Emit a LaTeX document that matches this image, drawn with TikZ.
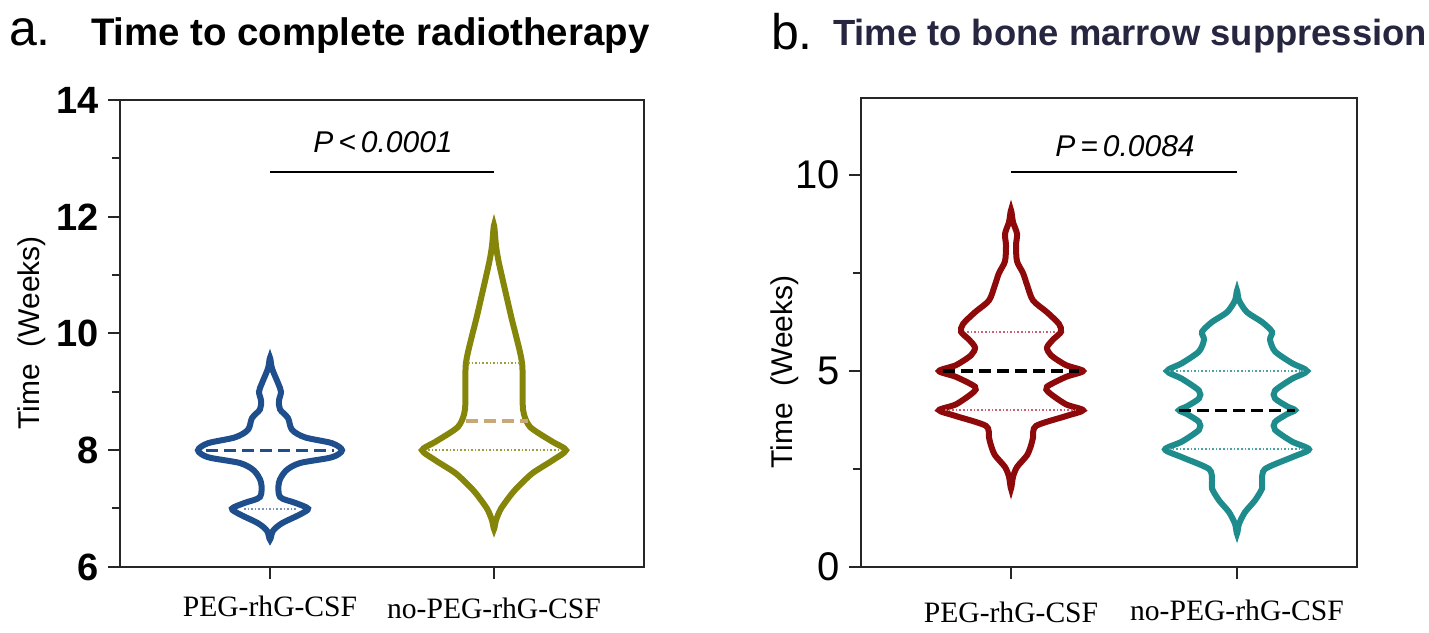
\documentclass[tikz,border=0pt]{standalone}
\usepackage{fontspec}
\setmainfont{Liberation Serif}
\setsansfont{Liberation Sans}
\begin{document}
\begin{tikzpicture}[x=0.5pt,y=-0.5pt,
  axisline/.style={line width=1pt,black!85},
  vio/.style={line width=3pt},
  med/.style={line width=1.6pt,dash pattern=on 6pt off 3pt},
  quart/.style={line width=1pt,dash pattern=on 0.8pt off 1pt},
  ticklab/.style={anchor=east},
  catlab/.style={font=\rmfamily\fontsize{14.8}{16}\selectfont},
  ylab/.style={font=\sffamily\fontsize{15}{17}\selectfont,rotate=90},
  plab/.style={font=\sffamily\itshape\fontsize{15}{17}\selectfont}]
\definecolor{vblue}{HTML}{1F4E8C}
\definecolor{volive}{HTML}{85850A}
\definecolor{vtan}{HTML}{C8A878}
\definecolor{vred}{HTML}{8E0A0A}
\definecolor{vteal}{HTML}{1E8C8C}
\definecolor{vpink}{HTML}{D06070}
\definecolor{navy}{HTML}{262640}
\useasboundingbox (0,0) rectangle (1429,632);
% titles
\node[anchor=west,font=\sffamily\fontsize{25}{27}\selectfont] (ta) at (2,32) {a.};
\node[anchor=west,font=\sffamily\bfseries\fontsize{19.2}{22}\selectfont] (tta) at (84,36) {Time to complete radiotherapy};
\node[anchor=west,font=\sffamily\fontsize{25}{27}\selectfont] (tb) at (764,32) {b.};
\node[anchor=west,font=\sffamily\bfseries\fontsize{18.2}{21}\selectfont,text=navy] (ttb) at (826,36) {Time to bone marrow suppression};
% ---------- panel a ----------
\draw[axisline] (120,100) rectangle (644,567);
\foreach \v/\y in {14/100,12/217,10/333,8/450,6/567}{
  \draw[axisline] (120,\y) -- (108,\y);
  \node[ticklab,font=\sffamily\bfseries\fontsize{19}{21}\selectfont] at (106,\y) {\v};}
\foreach \y in {158,275,392,508}{\draw[axisline] (120,\y) -- (112,\y);}
\foreach \x in {270,494}{\draw[axisline] (\x,567) -- (\x,579);}
\node[ylab] (yla) at (32,333) {Time\ \ (Weeks)};
\node[catlab] (c1a) at (270,606) {PEG-rhG-CSF};
\node[catlab] (c2a) at (494,608) {no-PEG-rhG-CSF};
\coordinate (sa1) at (270,172); \coordinate (sa2) at (494,172);
\draw[line width=0.9pt] (sa1) -- (sa2);
\node[plab] (pa) at (383,142) {P\,<\,0.0001};
% blue violin
\begin{scope}[shift={(270,917.4)},y={(0pt,29.2pt)}]
\draw[vio,vblue] plot[smooth cycle,tension=0.5] coordinates{
(0,9.58)(2,9.4)(8,9.15)(11,9.0)(9,8.85)(10,8.7)(18,8.55)(22,8.35)(35,8.22)(62,8.12)(72,8.0)(62,7.88)(30,7.78)(16,7.65)(9,7.45)(10,7.2)(25,7.1)(38,7.0)(30,6.9)(12,6.75)(3,6.62)(0,6.47)
(-3,6.62)(-12,6.75)(-30,6.9)(-38,7.0)(-25,7.1)(-10,7.2)(-9,7.45)(-16,7.65)(-30,7.78)(-62,7.88)(-72,8.0)(-62,8.12)(-35,8.22)(-22,8.35)(-18,8.55)(-10,8.7)(-9,8.85)(-11,9.0)(-8,9.15)(-2,9.4)};
\draw[quart,vblue!60] (-26,7.0) -- (26,7.0);
\draw[med,vblue] (-64,8.0) -- (64,8.0);
\end{scope}
% olive violin
\begin{scope}[shift={(494,917.4)},y={(0pt,29.2pt)}]
\draw[vio,volive] plot[smooth cycle,tension=0.4] coordinates{
(0,11.85)(2,11.5)(5,11.2)(17,10.3)(28,9.5)(29,8.7)(36,8.4)(58,8.15)(72,8.0)(58,7.82)(38,7.6)(20,7.3)(7,7.0)(2,6.8)(0,6.65)
(-2,6.8)(-7,7.0)(-20,7.3)(-38,7.6)(-58,7.82)(-72,8.0)(-58,8.15)(-36,8.4)(-29,8.7)(-28,9.5)(-17,10.3)(-5,11.2)(-2,11.5)};
\draw[quart,volive!80] (-26,9.5) -- (26,9.5);
\draw[quart,volive!80] (-66,8.0) -- (66,8.0);
\draw[med,vtan] (-28,8.5) -- (34,8.5);
\end{scope}
% ---------- panel b ----------
\draw[axisline] (861,98) rectangle (1357,567);
\foreach \v/\y in {10/175,5/371,0/567}{
  \draw[axisline] (861,\y) -- (849,\y);
  \node[ticklab,font=\sffamily\fontsize{20}{22}\selectfont] at (847,\y) {\v};}
\foreach \y in {273,469}{\draw[axisline] (861,\y) -- (853,\y);}
\foreach \x in {1011,1237}{\draw[axisline] (\x,567) -- (\x,579);}
\node[ylab] (ylb) at (785,372) {Time\ \ (Weeks)};
\node[catlab] (c1b) at (1011,612) {PEG-rhG-CSF};
\node[catlab] (c2b) at (1237,610) {no-PEG-rhG-CSF};
\coordinate (sb1) at (1011,172); \coordinate (sb2) at (1237,172);
\draw[line width=0.9pt] (sb1) -- (sb2);
\node[plab] (pb) at (1125,146) {P\,=\,0.0084};
% red violin
\begin{scope}[shift={(1011,567)},y={(0pt,19.6pt)}]
\draw[vio,vred] plot[smooth cycle,tension=0.45] coordinates{
(0,9.1)(2,8.8)(6,8.5)(5,8.2)(6,7.8)(12,7.5)(16,7.2)(22,6.8)(36,6.5)(48,6.2)(50,6.0)(42,5.8)(36,5.6)(40,5.4)(55,5.15)(72,5.0)(55,4.85)(36,4.6)(38,4.45)(55,4.15)(72,4.0)(55,3.85)(25,3.6)(22,3.3)(20,3.1)(16,2.85)(6,2.55)(2,2.3)(0,2.0)
(-2,2.3)(-6,2.55)(-16,2.85)(-20,3.1)(-22,3.3)(-25,3.6)(-55,3.85)(-72,4.0)(-55,4.15)(-38,4.45)(-36,4.6)(-55,4.85)(-72,5.0)(-55,5.15)(-40,5.4)(-36,5.6)(-42,5.8)(-50,6.0)(-48,6.2)(-36,6.5)(-22,6.8)(-16,7.2)(-12,7.5)(-6,7.8)(-5,8.2)(-6,8.5)(-2,8.8)};
\draw[quart,vpink] (-44,6.0) -- (46,6.0);
\draw[quart,vpink] (-66,4.0) -- (66,4.0);
\draw[med,black] (-68,5.0) -- (68,5.0);
\end{scope}
% teal violin
\begin{scope}[shift={(1237,567)},y={(0pt,19.6pt)}]
\draw[vio,vteal] plot[smooth cycle,tension=0.45] coordinates{
(0,7.05)(2,6.8)(10,6.5)(25,6.25)(35,6.0)(33,5.8)(38,5.5)(55,5.2)(70,5.0)(55,4.8)(38,4.5)(38,4.3)(50,4.1)(58,4.0)(50,3.9)(38,3.7)(38,3.5)(55,3.2)(72,3.0)(55,2.8)(28,2.5)(25,2.2)(25,2.0)(18,1.7)(8,1.4)(2,1.1)(0,0.85)
(-2,1.1)(-8,1.4)(-18,1.7)(-25,2.0)(-25,2.2)(-28,2.5)(-55,2.8)(-72,3.0)(-55,3.2)(-38,3.5)(-38,3.7)(-50,3.9)(-58,4.0)(-50,4.1)(-38,4.3)(-38,4.5)(-55,4.8)(-70,5.0)(-55,5.2)(-38,5.5)(-33,5.8)(-35,6.0)(-25,6.25)(-10,6.5)(-2,6.8)};
\draw[quart,vteal!80] (-68,5.0) -- (68,5.0);
\draw[quart,vteal!80] (-68,3.0) -- (68,3.0);
\draw[med,black] (-58,4.0) -- (58,4.0);
\end{scope}
\end{tikzpicture}
\end{document}
